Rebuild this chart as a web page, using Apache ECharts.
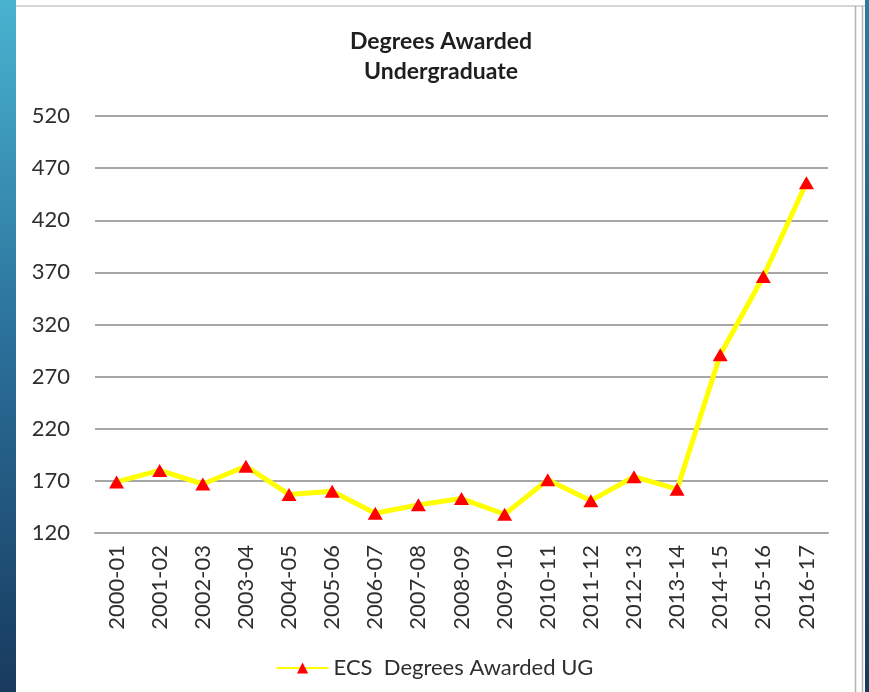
<!DOCTYPE html>
<html>
<head>
<meta charset="utf-8">
<script src="https://cdn.jsdelivr.net/npm/echarts@6/dist/echarts.min.js"></script>
<style>
  html, body { margin: 0; padding: 0; background: #fff; }
  #chart { width: 869px; height: 692px; }
</style>
</head>
<body>
<div id="chart"></div>
<script>
// academic years
const years = [
  "2000-01", "2001-02", "2002-03", "2003-04", "2004-05", "2005-06",
  "2006-07", "2007-08", "2008-09", "2009-10", "2010-11", "2011-12",
  "2012-13", "2013-14", "2014-15", "2015-16", "2016-17"
];
// ECS undergraduate degrees awarded
const degreesUG = [
  169, 180, 167, 184, 157, 160, 139, 147, 153, 138, 171, 151,
  174, 162, 291, 366, 456
];
const seriesName = "ECS  Degrees Awarded UG";
const titleLines = ["Degrees Awarded", "Undergraduate"];

const font = "Lato, 'Open Sans', sans-serif";
const textColor = "#2e2e2e";

const chart = echarts.init(document.getElementById("chart"));

chart.setOption({
  backgroundColor: "#fff",
  animation: false,
  title: {
    text: titleLines.join("\n"),
    left: 436,
    textAlign: "center",
    top: 22,
    textStyle: {
      fontFamily: font,
      fontSize: 23,
      fontWeight: "bold",
      color: "#1e1e1e",
      lineHeight: 30
    }
  },
  grid: {
    left: 95,
    right: 41,
    top: 116,
    bottom: 159
  },
  xAxis: {
    type: "category",
    data: years,
    boundaryGap: true,
    axisLine: { show: true, lineStyle: { color: "#a6a6a6", width: 2 } },
    axisTick: { show: false },
    axisLabel: {
      rotate: 90,
      interval: 0,
      margin: 12,
      fontFamily: font,
      fontSize: 22,
      color: textColor
    }
  },
  yAxis: {
    type: "value",
    min: 120,
    max: 520,
    interval: 50,
    axisLine: { show: false },
    axisTick: { show: false },
    axisLabel: {
      margin: 25,
      fontFamily: font,
      fontSize: 22,
      color: textColor
    },
    splitLine: {
      show: true,
      lineStyle: { color: "#a6a6a6", width: 2 }
    }
  },
  legend: {
    bottom: 8,
    left: "center",
    itemWidth: 52,
    itemHeight: 14,
    itemGap: 6,
    textStyle: {
      fontFamily: font,
      fontSize: 22,
      color: textColor
    },
    data: [seriesName]
  },
  graphic: [
    {
      type: "rect",
      shape: { x: 0, y: 0, width: 16, height: 692 },
      style: {
        fill: new echarts.graphic.LinearGradient(0, 0, 0, 1, [
          { offset: 0, color: "#49b3d0" },
          { offset: 0.5, color: "#2a6f99" },
          { offset: 1, color: "#183a5e" }
        ])
      },
      silent: true
    },
    {
      type: "rect",
      shape: { x: 865, y: 0, width: 4, height: 692 },
      style: {
        fill: new echarts.graphic.LinearGradient(0, 0, 0, 1, [
          { offset: 0, color: "#2d7aa3" },
          { offset: 1, color: "#163a5e" }
        ])
      },
      silent: true
    },
    {
      type: "line",
      shape: { x1: 16, y1: 6, x2: 865, y2: 6 },
      style: { stroke: "#c8c8c8", lineWidth: 1.5 },
      silent: true
    },
    {
      type: "line",
      shape: { x1: 855.5, y1: 6, x2: 855.5, y2: 692 },
      style: { stroke: "#b4b4b4", lineWidth: 1.5 },
      silent: true
    },
    {
      type: "line",
      shape: { x1: 862.5, y1: 6, x2: 862.5, y2: 692 },
      style: { stroke: "#b4b4b4", lineWidth: 1.5 },
      silent: true
    }
  ],
  series: [
    {
      name: seriesName,
      type: "line",
      data: degreesUG,
      symbol: "triangle",
      symbolSize: [15, 13],
      showAllSymbol: true,
      itemStyle: { color: "#ff0000" },
      lineStyle: { color: "#ffff00", width: 5 }
    }
  ]
});
</script>
</body>
</html>
